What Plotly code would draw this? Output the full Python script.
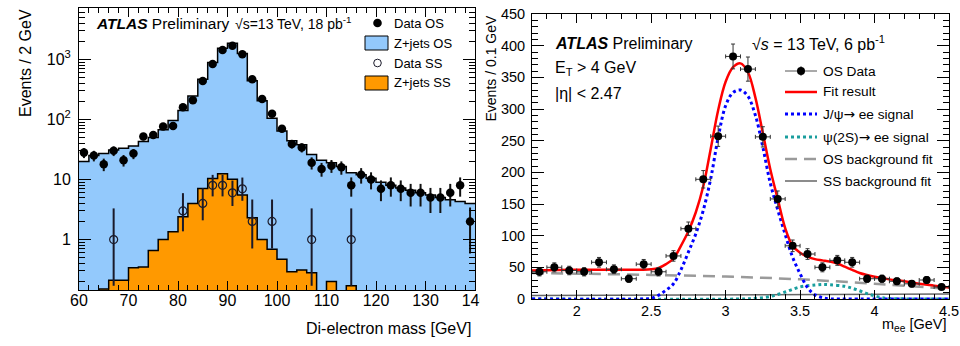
import math
import plotly.graph_objects as go

W, H = 960, 346
FONT = "Liberation Sans, Arial, Helvetica, sans-serif"

# ---------------- left panel: Z -> ee (2 GeV bins, 60-140 GeV) ----------------
mass_edges = list(range(60, 141, 2))
mass_centers = list(range(61, 140, 2))
data_os = [28, 25, 18, 30, 21, 27, 52, 55, 76, 78, 160, 208, 437, 834, 1430, 1690,
           1212, 466, 219, 124, 70, 39, 34, 19, 15, 17, 16, 8, 12, 10, 7, 8, 7, 6,
           6, 5, 5, 6, 8, 2]
mc_os = [20, 25, 27, 31, 33, 36, 43, 50, 67, 96, 141, 245, 466, 890, 1530, 1850,
         1250, 440, 205, 105, 64, 44, 38, 26, 21, 19, 16.5, 13, 12, 10.5, 9, 8,
         7.2, 6.6, 6, 5.5, 5.0, 4.6, 4.3, 4.0]
mc_ss = [0, 0, 0.15, 0.21, 0.21, 0.34, 0.35, 0.66, 1.0, 1.35, 2.4, 4.0, 7.1, 10.4,
         12.5, 10.1, 5.5, 2.3, 1.0, 0.69, 0.47, 0.29, 0.31, 0.28, 0, 0.2, 0, 0.17,
         0, 0, 0, 0, 0, 0, 0, 0, 0, 0, 0, 0]
ss_x = [67, 81, 85, 87, 89, 91, 93, 95, 99, 107, 115]
ss_y = [1, 3, 4, 8, 8, 6, 7, 2, 2, 1, 1]
ss_err_up = [2.30, 2.92, 3.16, 3.94, 3.94, 3.58, 3.77, 2.64, 2.64, 2.30, 2.30]
ss_err_dn = [0.83, 1.63, 1.91, 2.77, 2.77, 2.38, 2.58, 1.29, 1.29, 0.83, 0.83]
log_ticks = [1, 10, 100, 1000]
log_labels = ["1", "10", "10<sup>2</sup>", "10<sup>3</sup>"]

# ---------------- right panel: J/psi -> ee (0.1 GeV bins) ----------------
mee = [1.75, 1.85, 1.95, 2.05, 2.15, 2.25, 2.35, 2.45, 2.55, 2.65, 2.75, 2.85, 2.95,
       3.05, 3.15, 3.25, 3.35, 3.45, 3.55, 3.65, 3.75, 3.85, 3.95, 4.05, 4.15, 4.25,
       4.35, 4.45]
os_data = [43, 50, 45, 43, 58, 47, 32, 55, 43, 68, 111, 189, 257, 383, 363, 256, 158,
           84, 71, 50, 61, 58, 32, 32, 28, 24, 30, 19]

fit_x = [1.70, 2.00, 2.30, 2.50, 2.55, 2.60, 2.65, 2.70, 2.75, 2.80, 2.85, 2.90, 2.95,
         3.00, 3.05, 3.10, 3.15, 3.20, 3.25, 3.30, 3.35, 3.40, 3.45, 3.50, 3.55, 3.60,
         3.65, 3.70, 3.75, 3.80, 3.85, 3.90, 4.00, 4.10, 4.20, 4.30, 4.40, 4.50]
fit_y = [45, 46, 46, 47, 49, 55, 64, 84, 107, 137, 178, 237, 298, 343, 366, 372, 358,
         318, 262, 205, 158, 112, 84, 73, 67, 63, 61, 59, 56, 51, 46, 41, 35, 31, 28,
         24, 21, 18]

jpsi_x = [1.70, 2.45, 2.50, 2.55, 2.60, 2.65, 2.70, 2.75, 2.80, 2.85, 2.90, 2.95, 3.00,
          3.05, 3.10, 3.15, 3.20, 3.25, 3.30, 3.35, 3.40, 3.45, 3.50, 3.55, 3.60, 3.65,
          3.70, 3.80, 4.50]
jpsi_y = [0, 0, 1, 6, 14, 24, 46, 74, 103, 140, 190, 255, 305, 326, 330, 320, 290, 240,
          183, 141, 102, 66, 40, 18, 6.5, 2, 0.3, 0, 0]

psi2s_x = [1.70, 3.10, 3.20, 3.30, 3.40, 3.50, 3.60, 3.65, 3.70, 3.80, 3.85, 3.90, 3.95,
           4.00, 4.05, 4.10, 4.20, 4.30, 4.50]
psi2s_y = [0, 0, 1, 4, 11, 19, 22, 23, 22.5, 20, 17, 13, 8.5, 5, 2, 0.8, 0.2, 0, 0]

bg_os_x = [1.70, 2.00, 2.50, 3.00, 3.50, 4.00, 4.50]
bg_os_y = [41, 40, 38, 35.5, 31, 24, 16]

bg_ss_x = [1.70, 3.00, 4.50]
bg_ss_y = [5.5, 6.8, 8.0]

# ---------------- colours ----------------
BLUE_FILL = "#93c9fc"
ORANGE = "#ff9900"
RED = "#ff0000"
JPSI = "#0000ff"
TEAL = "#1a9e9e"
GREY_D = "#9a9a9a"
GREY_S = "#666666"


def px(x):
    return x / W


def py(y):
    return 1 - y / H


fig = go.Figure()

# left panel histograms (step fills)
fig.add_trace(go.Scatter(
    x=mass_edges, y=mc_os + [mc_os[-1]], mode="lines",
    line=dict(shape="hv", color="black", width=1.5),
    fill="tozeroy", fillcolor=BLUE_FILL, xaxis="x", yaxis="y", hoverinfo="skip"))
ss_plot = [v if v > 0 else 0.01 for v in mc_ss]
fig.add_trace(go.Scatter(
    x=mass_edges, y=ss_plot + [ss_plot[-1]], mode="lines",
    line=dict(shape="hv", color="black", width=1.5),
    fill="tozeroy", fillcolor=ORANGE, xaxis="x", yaxis="y", hoverinfo="skip"))
# OS data
fig.add_trace(go.Scatter(
    x=mass_centers, y=data_os, mode="markers",
    marker=dict(symbol="circle", size=8.5, color="black"),
    error_y=dict(type="data", array=[math.sqrt(v) for v in data_os],
                 color="#111111", thickness=2, width=0),
    xaxis="x", yaxis="y"))
# SS data
fig.add_trace(go.Scatter(
    x=ss_x, y=ss_y, mode="markers",
    marker=dict(symbol="circle-open", size=8, color="#1a1a2a", line=dict(width=1.2)),
    error_y=dict(type="data", symmetric=False, array=ss_err_up, arrayminus=ss_err_dn,
                 color="#1a1a2a", thickness=2, width=0),
    xaxis="x", yaxis="y"))

# right panel curves
fig.add_trace(go.Scatter(x=bg_ss_x, y=bg_ss_y, mode="lines",
                         line=dict(color=GREY_S, width=1.5),
                         xaxis="x2", yaxis="y2"))
fig.add_trace(go.Scatter(x=bg_os_x, y=bg_os_y, mode="lines",
                         line=dict(color=GREY_D, width=2.5, dash="12px,7px", shape="spline"),
                         xaxis="x2", yaxis="y2"))
fig.add_trace(go.Scatter(x=psi2s_x, y=psi2s_y, mode="lines",
                         line=dict(color=TEAL, width=3, dash="dot", shape="spline"),
                         xaxis="x2", yaxis="y2"))
fig.add_trace(go.Scatter(x=jpsi_x, y=jpsi_y, mode="lines",
                         line=dict(color=JPSI, width=3, dash="dot", shape="spline"),
                         xaxis="x2", yaxis="y2"))
fig.add_trace(go.Scatter(x=fit_x, y=fit_y, mode="lines",
                         line=dict(color=RED, width=2.5, shape="spline"),
                         xaxis="x2", yaxis="y2"))
fig.add_trace(go.Scatter(
    x=mee, y=os_data, mode="markers",
    marker=dict(symbol="circle", size=8, color="black"),
    error_y=dict(type="data", array=[math.sqrt(v) for v in os_data],
                 color="#333333", thickness=1, width=2),
    error_x=dict(type="constant", value=0.05, color="#333333", thickness=1, width=2),
    xaxis="x2", yaxis="y2"))

minor_log = [m * 10 ** e for e in (-1, 0, 1, 2, 3) for m in range(2, 10) if m * 10 ** e < 7100]

axis_common = dict(showline=True, linecolor="black", linewidth=1, mirror="ticks",
                   ticks="inside", tickcolor="black", tickwidth=1, showgrid=False,
                   zeroline=False, automargin=False, ticklabeloverflow="allow")

layout = dict(
    width=W, height=H, margin=dict(l=0, r=0, t=0, b=0, pad=0, autoexpand=False),
    paper_bgcolor="white", plot_bgcolor="white", showlegend=False,
    font=dict(family=FONT, color="black"),
    xaxis=dict(domain=[px(79), px(475)], range=[60, 140], anchor="y",
               tickmode="linear", tick0=60, dtick=10, ticklen=9,
               tickfont=dict(size=16), ticklabelstandoff=-4,
               minor=dict(tickmode="linear", tick0=60, dtick=2, ticks="inside",
                          ticklen=5, tickcolor="black", tickwidth=1, showgrid=False),
               **axis_common),
    yaxis=dict(domain=[py(290), py(8)], type="log", range=[-0.84, 3.855], anchor="x",
               tickmode="array", tickvals=log_ticks, ticktext=log_labels, ticklen=12,
               tickfont=dict(size=16), ticklabelstandoff=4,
               minor=dict(tickmode="array", tickvals=minor_log, ticks="inside",
                          ticklen=6, tickcolor="black", tickwidth=1, showgrid=False),
               **axis_common),
    xaxis2=dict(domain=[px(532), px(949)], range=[1.7, 4.5], anchor="y2",
                tickmode="linear", tick0=0, dtick=0.5, ticklen=9,
                tickfont=dict(size=14.5), ticklabelstandoff=-1,
                minor=dict(tickmode="linear", tick0=0, dtick=0.1, ticks="inside",
                           ticklen=5, tickcolor="black", tickwidth=1, showgrid=False),
                **axis_common),
    yaxis2=dict(domain=[py(299), py(14)], range=[0, 450], anchor="x2",
                tickmode="linear", tick0=0, dtick=50, ticklen=12,
                tickfont=dict(size=14.5), ticklabelstandoff=3,
                minor=dict(tickmode="linear", tick0=0, dtick=10, ticks="inside",
                           ticklen=6, tickcolor="black", tickwidth=1, showgrid=False),
                **axis_common),
)
fig.update_layout(**layout)

ann = []
shapes = []


def text(x, y, s, size, xanchor="left", angle=0):
    ann.append(dict(x=px(x), y=py(y), xref="paper", yref="paper", text=s,
                    showarrow=False, xanchor=xanchor, yanchor="middle",
                    textangle=angle, font=dict(size=size, family=FONT, color="black")))


ARROW = '<span style="font-family:DejaVu Sans">→</span>'

# left panel texts
text(94, 23, "<b><i>ATLAS</i></b> Preliminary", 15.5)
text(233, 23, "√s=13 TeV, 18 pb<sup>-1</sup>", 14)
text(25.5, 63.5, "Events / 2 GeV", 16, xanchor="center", angle=-90)
text(473, 328, "Di-electron mass [GeV]", 16, xanchor="right")

# left legend
leg_rows = [23, 43, 63, 83]
leg_txt = ["Data OS", "Z+jets OS", "Data SS", "Z+jets SS"]
for yy, t in zip(leg_rows, leg_txt):
    text(392, yy, t, 13)
shapes.append(dict(type="circle", xref="paper", yref="paper",
                   x0=px(377.5 - 4.3), x1=px(377.5 + 4.3),
                   y0=py(23 + 4.3), y1=py(23 - 4.3),
                   fillcolor="black", line=dict(width=0)))
shapes.append(dict(type="rect", xref="paper", yref="paper",
                   x0=px(365), x1=px(388), y0=py(50), y1=py(36),
                   fillcolor=BLUE_FILL, line=dict(color="black", width=1)))
shapes.append(dict(type="circle", xref="paper", yref="paper",
                   x0=px(377.5 - 3.8), x1=px(377.5 + 3.8),
                   y0=py(63 + 3.8), y1=py(63 - 3.8),
                   fillcolor="rgba(0,0,0,0)", line=dict(color="#1a1a2a", width=1)))
shapes.append(dict(type="rect", xref="paper", yref="paper",
                   x0=px(365), x1=px(388), y0=py(90), y1=py(76),
                   fillcolor=ORANGE, line=dict(color="black", width=1)))

# right panel texts
text(553, 43, "<b><i>ATLAS</i></b> Preliminary", 16)
text(553, 68, "E<sub>T</sub> &gt; 4 GeV", 16)
text(553, 93, "|η| &lt; 2.47", 16)
text(750, 43, "√<i>s</i> = 13 TeV, 6 pb<sup>-1</sup>", 16)
text(491, 68.5, "Events / 0.1 GeV", 14, xanchor="center", angle=-90)
text(948, 325, "m<sub>ee</sub> [GeV]", 14.5, xanchor="right")

# right legend
r_rows = [71, 92, 114, 137, 159, 181]
r_txt = ["OS Data", "Fit result", "J/ψ" + ARROW + " ee signal",
         "ψ(2S)" + ARROW + " ee signal", "OS background fit", "SS background fit"]
for yy, t in zip(r_rows, r_txt):
    text(821, yy, t, 13.7)


def hline(y, color, width, dash="solid"):
    shapes.append(dict(type="line", xref="paper", yref="paper",
                       x0=px(785), x1=px(817), y0=py(y), y1=py(y),
                       line=dict(color=color, width=width, dash=dash)))


hline(r_rows[0], "#555555", 1)
shapes.append(dict(type="line", xref="paper", yref="paper",
                   x0=px(801), x1=px(801), y0=py(r_rows[0] - 5), y1=py(r_rows[0] + 5),
                   line=dict(color="#555555", width=1)))
shapes.append(dict(type="circle", xref="paper", yref="paper",
                   x0=px(801 - 4), x1=px(801 + 4),
                   y0=py(r_rows[0] + 4), y1=py(r_rows[0] - 4),
                   fillcolor="black", line=dict(width=0)))
hline(r_rows[1], RED, 2.5)
hline(r_rows[2], JPSI, 3, "dot")
hline(r_rows[3], TEAL, 3, "dot")
hline(r_rows[4], GREY_D, 2.5, "12px,7px")
hline(r_rows[5], GREY_S, 1.5)

# the left canvas is clipped at x=480 in the original (cuts the "140" label)
shapes.append(dict(type="rect", xref="paper", yref="paper", layer="above",
                   x0=px(480), x1=px(512), y0=py(314), y1=py(292),
                   fillcolor="white", line=dict(width=0)))

fig.update_layout(annotations=ann, shapes=shapes)
fig.write_html("out.html")
